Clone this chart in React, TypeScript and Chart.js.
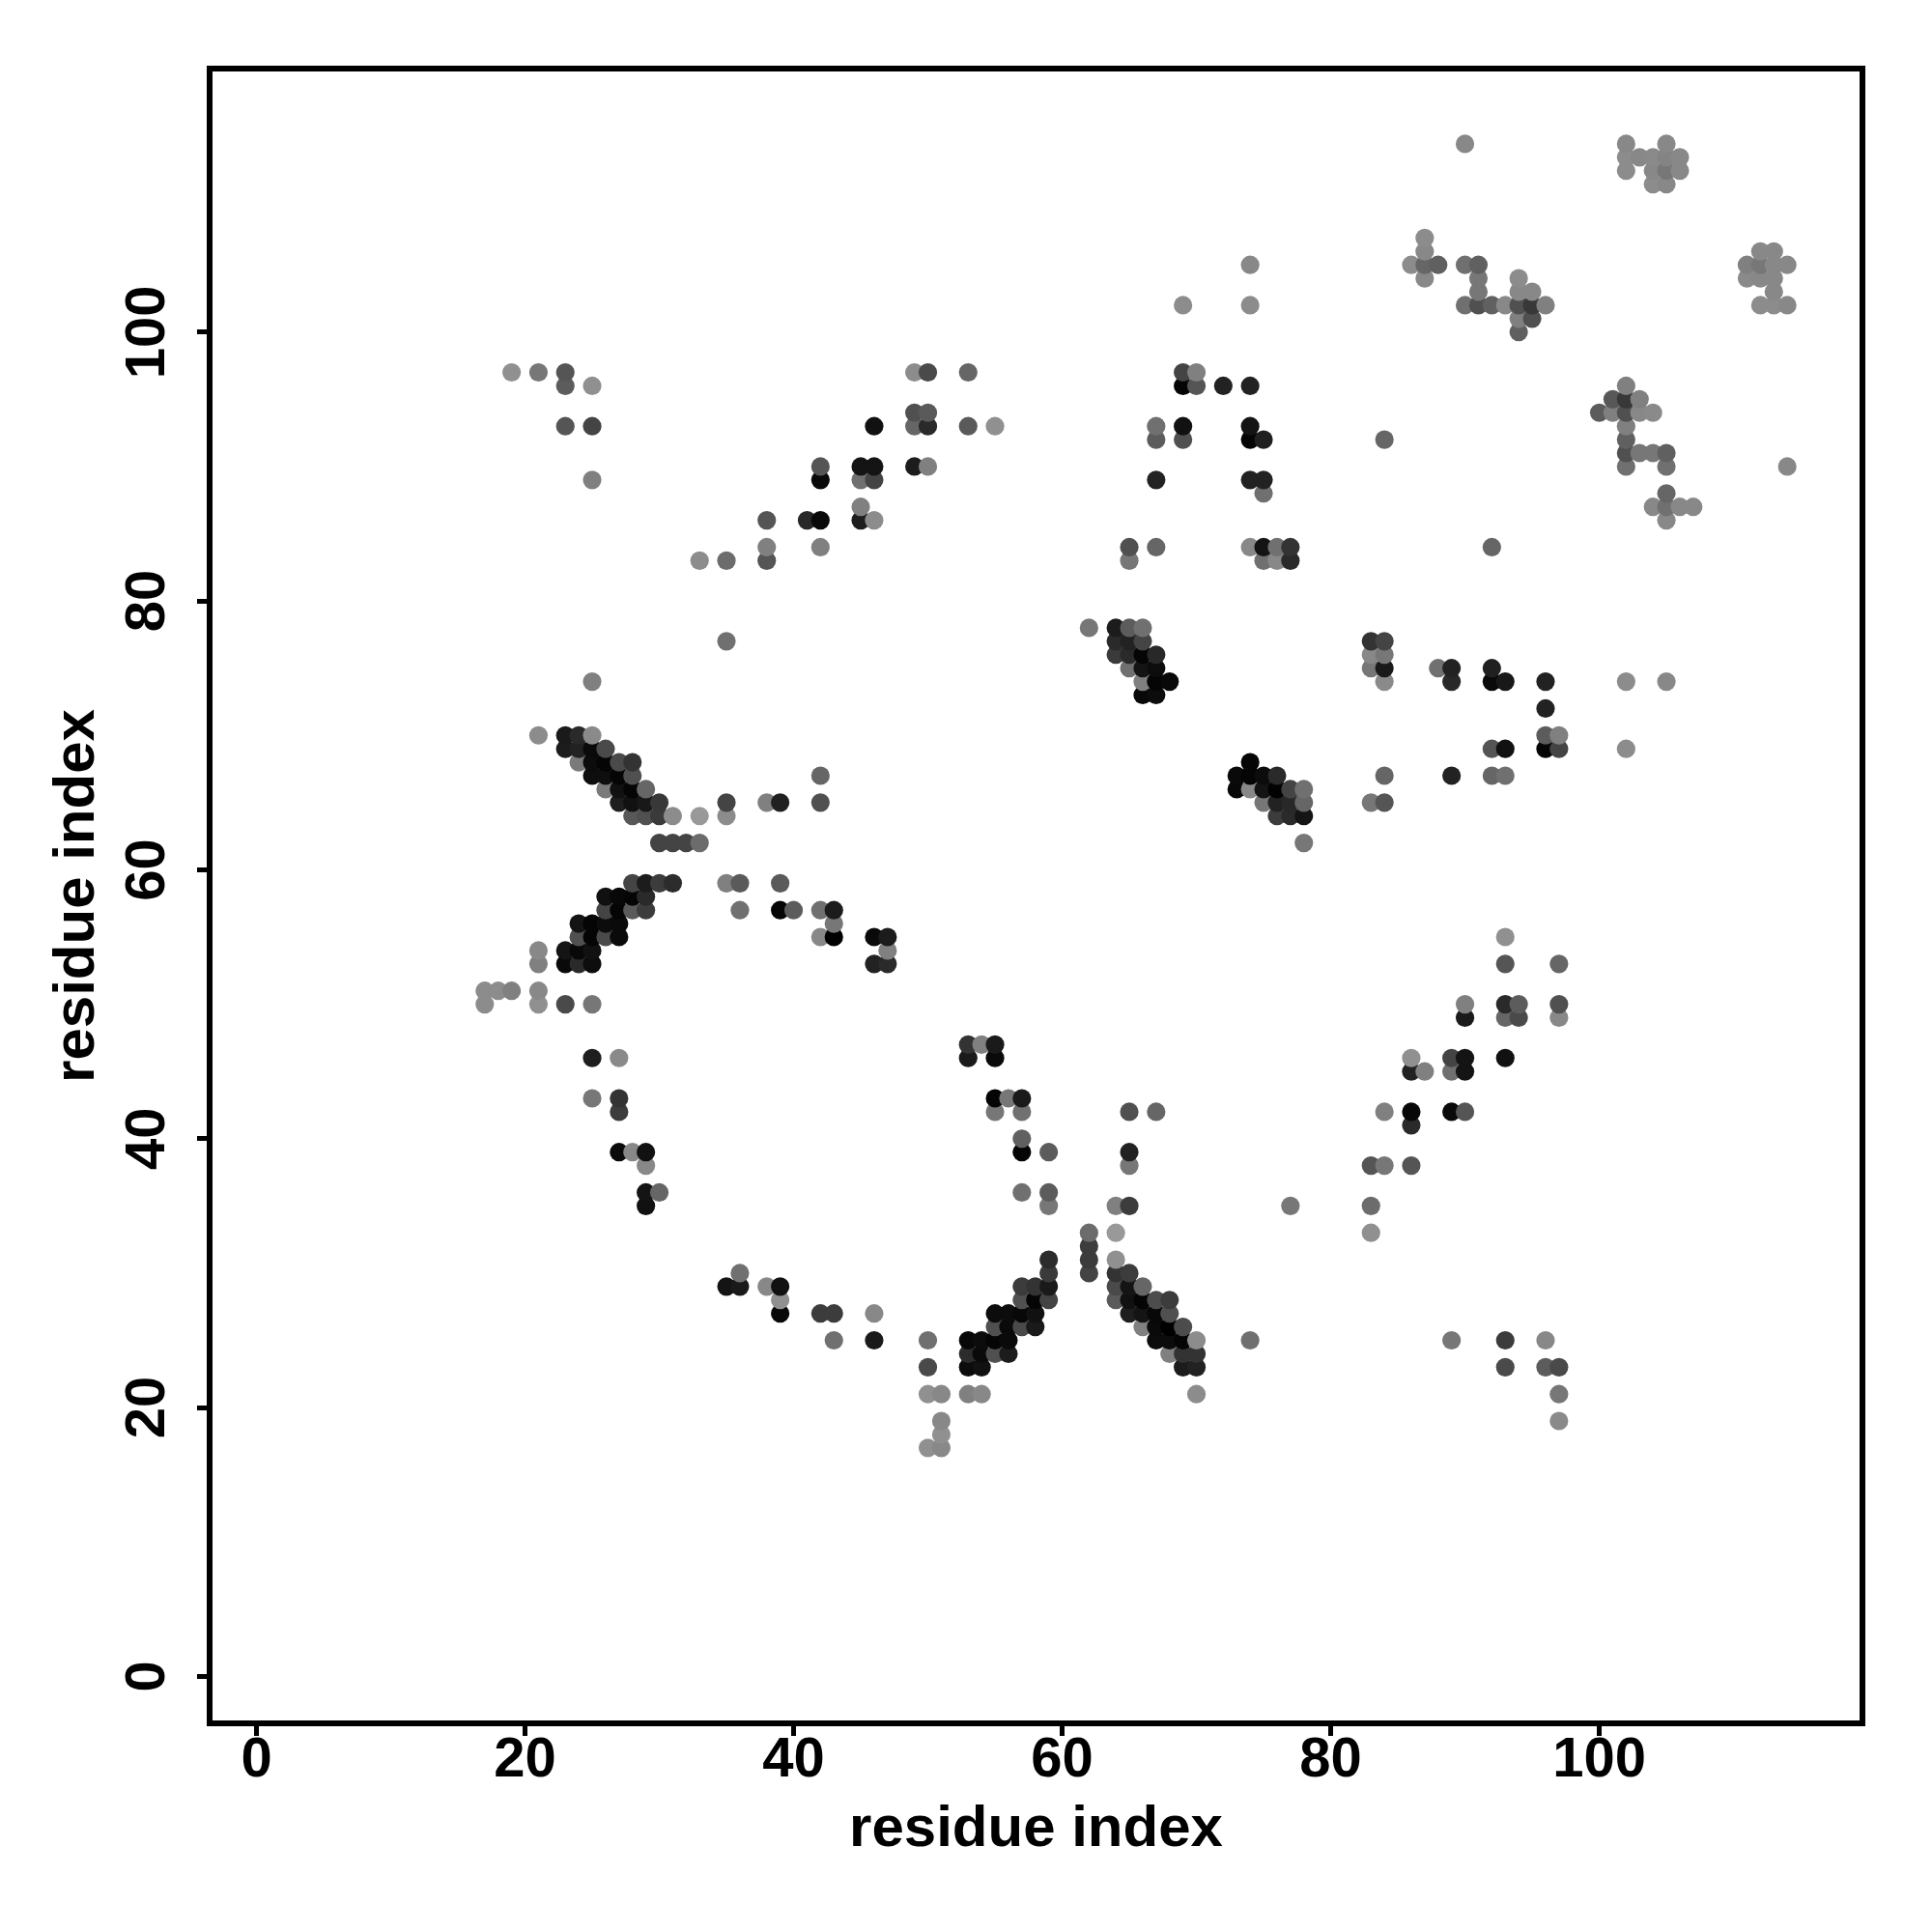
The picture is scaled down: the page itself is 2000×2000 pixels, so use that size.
import React, { useEffect, useRef } from "react";
import { Chart, registerables } from "chart.js";

Chart.register(...registerables);

const xTickValues = [0, 20, 40, 60, 80, 100];
const yTickValues = [0, 20, 40, 60, 80, 100];
const xAxisTitle = "residue index";
const yAxisTitle = "residue index";

// one entry per row of the contact map: the row's residue, the partner residues, the grey level of each dot
const rowResidue = [
  114, 113, 112, 111, 107, 106, 105, 104, 103, 102, 101, 100, 97, 96, 95, 94, 93, 92, 91, 90, 89, 88, 87, 86, 84, 83,
  78, 77, 76, 75, 74, 73, 72, 70, 69, 68, 67, 66, 65, 64, 62, 59, 58, 57, 56, 55, 54, 53, 51, 50, 49, 47, 46, 45, 43,
  42, 41, 40, 39, 38, 36, 35, 33, 32, 31, 30, 29, 28, 27, 26, 25, 24, 23, 21, 19, 18, 17,
];

const partnerResidues = [
  [90, 102, 105],
  [102, 103, 104, 105, 106],
  [102, 104, 105, 106],
  [104, 105],
  [87],
  [87, 112, 113],
  [74, 86, 87, 88, 90, 91, 111, 112, 113, 114],
  [87, 91, 94, 111, 112, 113],
  [91, 94, 95, 113],
  [69, 74, 90, 91, 92, 93, 94, 95, 96, 112, 113, 114],
  [94, 95],
  [94],
  [19, 21, 23, 49, 50, 53, 69, 70],
  [23, 25, 69, 70, 72, 74, 102],
  [101, 102, 103],
  [49, 50, 100, 101, 102, 103, 104],
  [23, 25, 46, 49, 50, 53, 55, 67, 69, 74, 102],
  [67, 69, 74, 75, 84, 102],
  [102, 103, 104, 105],
  [42, 45, 46, 49, 50, 102, 105, 114],
  [25, 42, 45, 46, 67, 74, 75],
  [75, 105],
  [45, 104, 105, 106, 107],
  [38, 41, 42, 45, 46, 105],
  [38, 42, 65, 67, 74, 75, 76, 77, 92],
  [33, 35, 38, 65, 75, 76, 77],
  [62, 64, 65, 66],
  [35, 64, 65, 66, 83, 84],
  [64, 65, 66, 67, 83, 84],
  [65, 66, 67, 83, 84, 88, 89, 92],
  [25, 66, 67, 68, 84, 89, 92, 93, 96, 102, 105],
  [66, 67],
  [96],
  [21, 23, 24, 25, 96, 97],
  [23, 24, 25, 26, 92, 93, 96, 97, 102],
  [24, 25, 26, 27, 28, 74],
  [25, 26, 27, 28, 42, 73, 74, 75, 76, 84, 89, 92, 93],
  [26, 27, 28, 29, 73, 74, 75, 76, 77, 78],
  [27, 28, 29, 30, 35, 38, 39, 42, 75, 76, 77, 78, 83, 84],
  [28, 29, 30, 31, 33, 35, 76, 77, 78],
  [30, 31, 32, 33, 78],
  [28, 29, 30, 31, 35, 36, 39],
  [26, 27, 28, 29],
  [26, 27, 28, 29, 36, 39, 40, 42, 43],
  [24, 25, 26, 27, 43],
  [24, 25, 26, 27, 42, 43, 46, 47, 93],
  [21, 23, 24, 25, 47],
  [21, 23, 24, 25, 46, 47, 93, 97],
  [17, 18, 19, 21],
  [17, 21, 23, 25, 90, 93, 94, 97],
  [90, 93, 94, 97],
  [53, 54, 55],
  [25, 27, 53, 55, 86, 89, 90, 93],
  [86, 87, 89, 90],
  [25, 27, 55, 56, 57],
  [27, 55, 57, 65, 67, 84, 86, 89, 90],
  [86],
  [57],
  [27, 28, 29, 57, 59, 65],
  [29, 65, 83, 84, 86],
  [29, 30, 57, 59],
  [29, 59, 64, 65, 77, 83],
  [62, 64, 83],
  [62],
  [59, 62, 64],
  [36, 59, 62, 64, 65],
  [35, 36, 38, 39, 57, 58, 59, 64, 65, 66],
  [39, 57, 58, 59, 64, 65, 66, 67, 68],
  [39, 42, 43, 46, 55, 56, 57, 58, 65, 66, 67, 68],
  [55, 56, 57, 58, 66, 67, 68, 69],
  [43, 46, 50, 53, 54, 55, 56, 67, 68, 69, 70, 74, 89, 93, 96],
  [53, 54, 55, 56, 68, 69, 70],
  [50, 53, 54, 69, 70, 93, 96, 97],
  [50, 51, 53, 54, 70, 97],
  [51, 97],
  [51],
  [50, 51],
];

const greyLevels = [
  [0x88, 0x88, 0x88],
  [0x8c, 0x88, 0x8a, 0x84, 0x88],
  [0x8c, 0x88, 0x77, 0x88],
  [0x8c, 0x88],
  [0x8c],
  [0x88, 0x88, 0x88],
  [0x88, 0x8c, 0x66, 0x60, 0x70, 0x60, 0x80, 0x77, 0x88, 0x88],
  [0x88, 0x77, 0x8c, 0x8a, 0x88, 0x88],
  [0x77, 0x88, 0x88, 0x88],
  [0x8c, 0x8c, 0x70, 0x50, 0x60, 0x88, 0x50, 0x38, 0x80, 0x8c, 0x8c, 0x88],
  [0x80, 0x50],
  [0x60],
  [0x90, 0x77, 0x55, 0x8c, 0x4a, 0x66, 0x44, 0x80],
  [0x5c, 0x90, 0x05, 0x55, 0x22, 0x22, 0x80],
  [0x58, 0x38, 0x80],
  [0x50, 0x5a, 0x5c, 0x80, 0x50, 0x88, 0x8a],
  [0x55, 0x44, 0x11, 0x66, 0x2a, 0x5a, 0x90, 0x70, 0x11, 0x14, 0x80],
  [0x5c, 0x50, 0x05, 0x20, 0x66, 0x60],
  [0x50, 0x77, 0x77, 0x60],
  [0x55, 0x14, 0x14, 0x1c, 0x80, 0x70, 0x70, 0x88],
  [0x80, 0x0a, 0x70, 0x44, 0x22, 0x22, 0x22],
  [0x70, 0x66],
  [0x80, 0x88, 0x70, 0x88, 0x88],
  [0x55, 0x28, 0x0a, 0x1e, 0x8c, 0x88],
  [0x80, 0x80, 0x50, 0x66, 0x88, 0x14, 0x70, 0x33, 0x66],
  [0x8c, 0x6c, 0x55, 0x77, 0x70, 0x88, 0x2a],
  [0x77, 0x1c, 0x5c, 0x70],
  [0x70, 0x2a, 0x22, 0x44, 0x33, 0x44],
  [0x3a, 0x2a, 0x05, 0x28, 0x88, 0x77],
  [0x70, 0x14, 0x0c, 0x77, 0x1a, 0x70, 0x22, 0x20],
  [0x80, 0x80, 0x05, 0x08, 0x8a, 0x28, 0x0a, 0x18, 0x22, 0x8c, 0x88],
  [0x08, 0x0c],
  [0x22],
  [0x8c, 0x1a, 0x2a, 0x8a, 0x5c, 0x80],
  [0x1c, 0x22, 0x0a, 0x4a, 0x55, 0x11, 0x05, 0x44, 0x8c],
  [0x7a, 0x0c, 0x05, 0x4a, 0x33, 0x05],
  [0x0e, 0x0e, 0x05, 0x50, 0x66, 0x0a, 0x05, 0x0c, 0x2a, 0x66, 0x22, 0x66, 0x70],
  [0x7a, 0x11, 0x05, 0x66, 0x08, 0x88, 0x14, 0x02, 0x44, 0x70],
  [0x1e, 0x11, 0x18, 0x38, 0x44, 0x80, 0x20, 0x50, 0x77, 0x22, 0x28, 0x66, 0x77, 0x55],
  [0x58, 0x50, 0x3a, 0x8c, 0x99, 0x8c, 0x3c, 0x2a, 0x14],
  [0x44, 0x44, 0x44, 0x6c, 0x77],
  [0x44, 0x1c, 0x3c, 0x2c, 0x80, 0x5a, 0x5a],
  [0x10, 0x08, 0x05, 0x2a],
  [0x44, 0x05, 0x5a, 0x3c, 0x70, 0x05, 0x5c, 0x70, 0x1c],
  [0x14, 0x05, 0x0c, 0x0a, 0x77],
  [0x50, 0x05, 0x4a, 0x0a, 0x88, 0x00, 0x0a, 0x1c, 0x90],
  [0x88, 0x14, 0x08, 0x11, 0x80],
  [0x80, 0x0a, 0x2a, 0x0c, 0x22, 0x2a, 0x55, 0x66],
  [0x8c, 0x8c, 0x80, 0x88],
  [0x8c, 0x90, 0x4a, 0x77, 0x80, 0x2a, 0x5c, 0x50],
  [0x1a, 0x66, 0x4a, 0x88],
  [0x33, 0x80, 0x1a],
  [0x1e, 0x8a, 0x1a, 0x0a, 0x90, 0x44, 0x14, 0x11],
  [0x22, 0x80, 0x70, 0x14],
  [0x77, 0x33, 0x05, 0x77, 0x1a],
  [0x3c, 0x77, 0x70, 0x50, 0x66, 0x80, 0x08, 0x0a, 0x55],
  [0x2a],
  [0x60],
  [0x0a, 0x88, 0x11, 0x05, 0x5c, 0x22],
  [0x88, 0x77, 0x55, 0x77, 0x55],
  [0x14, 0x66, 0x70, 0x5c],
  [0x11, 0x77, 0x80, 0x3c, 0x77, 0x6c],
  [0x6c, 0x99, 0x90],
  [0x3c],
  [0x2c, 0x3c, 0x90],
  [0x70, 0x3a, 0x44, 0x33, 0x3c],
  [0x14, 0x1a, 0x88, 0x11, 0x3c, 0x33, 0x1a, 0x4a, 0x14, 0x66],
  [0x90, 0x50, 0x05, 0x44, 0x5a, 0x11, 0x05, 0x4c, 0x3c],
  [0x08, 0x3c, 0x3c, 0x88, 0x0c, 0x0c, 0x08, 0x11, 0x1e, 0x14, 0x08, 0x50],
  [0x50, 0x0a, 0x4a, 0x1a, 0x80, 0x0a, 0x00, 0x4c],
  [0x70, 0x1a, 0x70, 0x08, 0x0c, 0x05, 0x0a, 0x0c, 0x0c, 0x05, 0x8c, 0x70, 0x77, 0x3c, 0x88],
  [0x2c, 0x0a, 0x50, 0x1c, 0x80, 0x33, 0x33],
  [0x4a, 0x0c, 0x11, 0x1c, 0x22, 0x4a, 0x5c, 0x4a],
  [0x90, 0x88, 0x80, 0x88, 0x8c, 0x77],
  [0x88, 0x8a],
  [0x90],
  [0x90, 0x88],
];

// the reference paints dots column by column, lower rows first
const dots = rowResidue
  .flatMap((y, r) => partnerResidues[r].map((x, i) => ({ x, y, grey: greyLevels[r][i] })))
  .sort((a, b) => a.x - b.x || a.y - b.y);

const FONT = "'Liberation Sans', Arial, Helvetica, sans-serif";

const frame = {
  id: "frame",
  afterDraw(chart: any) {
    const { ctx, chartArea: a } = chart;
    ctx.save();
    ctx.strokeStyle = "#000";
    ctx.lineWidth = 6;
    ctx.strokeRect(a.left, a.top, a.right - a.left, a.bottom - a.top);
    ctx.restore();
  },
};

export default function App() {
  const ref = useRef<HTMLCanvasElement>(null);
  useEffect(() => {
    const chart = new Chart(ref.current as HTMLCanvasElement, {
      type: "scatter",
      data: {
        datasets: [
          {
            data: dots.map((d) => ({ x: d.x, y: d.y })),
            pointRadius: 9.6,
            pointHoverRadius: 9.6,
            pointBorderWidth: 0,
            pointBackgroundColor: dots.map((d) => `rgb(${d.grey},${d.grey},${d.grey})`),
          },
        ],
      },
      options: {
        responsive: false,
        animation: false,
        devicePixelRatio: 1,
        layout: { padding: { left: 0, top: 71, right: 72, bottom: 0 } },
        plugins: { legend: { display: false }, tooltip: { enabled: false } },
        scales: {
          x: {
            type: "linear",
            min: -3.49,
            max: 119.6,
            afterBuildTicks: (s: any) => {
              s.ticks = xTickValues.map((value) => ({ value }));
            },
            afterFit: (s: any) => {
              s.height = 216;
            },
            grid: { drawOnChartArea: false, drawTicks: true, tickLength: 13, tickWidth: 5, tickColor: "#000" },
            border: { display: false },
            ticks: {
              color: "#000",
              font: { family: FONT, size: 58, weight: "bold" },
              padding: -9,
              maxRotation: 0,
              minRotation: 0,
              autoSkip: false,
            },
            title: {
              display: true,
              text: xAxisTitle,
              color: "#000",
              font: { family: FONT, size: 60, weight: "bold" },
              padding: { top: 0, bottom: 70 },
            },
          },
          y: {
            type: "linear",
            min: -3.49,
            max: 119.6,
            afterBuildTicks: (s: any) => {
              s.ticks = yTickValues.map((value) => ({ value }));
            },
            afterFit: (s: any) => {
              s.width = 217;
            },
            grid: { drawOnChartArea: false, drawTicks: true, tickLength: 13, tickWidth: 5, tickColor: "#000" },
            border: { display: false },
            ticks: {
              color: "#000",
              font: { family: FONT, size: 58, weight: "bold" },
              padding: 2,
              minRotation: 90,
              maxRotation: 90,
              crossAlign: "center",
              autoSkip: false,
            },
            title: {
              display: true,
              text: yAxisTitle,
              color: "#000",
              font: { family: FONT, size: 60, weight: "bold" },
              padding: { top: 44, bottom: 0 },
            },
          },
        },
      },
      plugins: [frame],
    } as any);
    return () => chart.destroy();
  }, []);
  return (
    <div style={{ position: "absolute", left: 0, top: 0 }}>
      <canvas ref={ref} width={2000} height={2000} style={{ display: "block" }} />
    </div>
  );
}
